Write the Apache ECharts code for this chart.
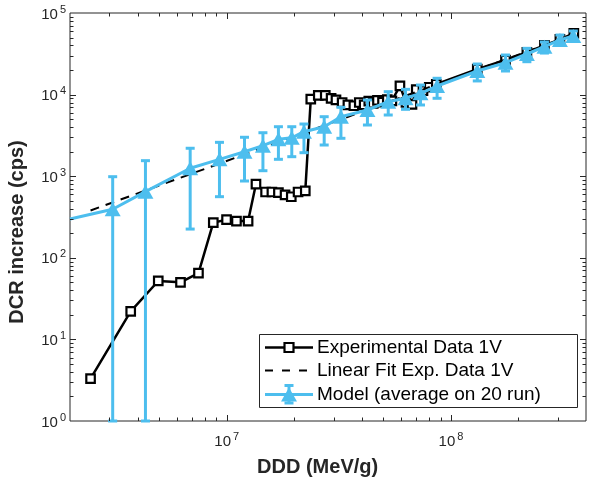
<!DOCTYPE html>
<html><head><meta charset="utf-8">
<script src="https://cdn.jsdelivr.net/npm/echarts@6/dist/echarts.min.js"></script>
<style>html,body{margin:0;padding:0;background:#fff}#c{width:589px;height:483px}</style>
</head><body><div id="c"></div>
<script>
// ---- data ----
const expX = [2.47e6, 3.73e6, 4.95e6, 6.22e6, 7.48e6, 8.71e6, 9.98e6, 1.105e7, 1.245e7, 1.35e7,
  1.49e7, 1.59e7, 1.70e7, 1.82e7, 1.94e7, 2.08e7, 2.24e7, 2.37e7, 2.56e7, 2.75e7,
  2.92e7, 3.07e7, 3.27e7, 3.47e7, 3.69e7, 3.9e7, 4.1e7, 4.3e7, 4.5e7, 4.7e7,
  4.95e7, 5.2e7, 5.45e7, 5.92e7, 6.3e7, 6.7e7, 7.0e7, 7.5e7, 8.0e7, 8.6e7,
  1.31e8, 1.75e8, 2.18e8, 2.61e8, 3.06e8, 3.53e8];
const expY = [3.3, 22, 52, 50, 65, 270, 293, 282, 282, 800,
  640, 640, 630, 590, 560, 640, 660, 8800, 9800, 9800,
  9000, 8600, 8000, 7500, 7300, 8000, 7500, 8300, 7800, 8500,
  8100, 8700, 8400, 12800, 8000, 7600, 11500, 11200, 12300, 13400,
  20500, 26500, 33000, 40000, 47500, 56400];
const fitX = [2.47e6, 3.53e8];
const fitY = [380, 54400];
const modelEdge = [2e6, 299];
const modelX = [3.10e6, 4.34e6, 6.87e6, 9.28e6, 1.20e7, 1.45e7, 1.70e7, 1.95e7, 2.21e7, 2.72e7,
  3.23e7, 4.24e7, 5.25e7, 6.27e7, 7.31e7, 8.67e7, 1.31e8, 1.75e8, 2.18e8, 2.61e8, 3.06e8, 3.51e8];
const modelY = [393, 646, 1250, 1610, 1995, 2365, 2830, 2950, 3510, 4040,
  5360, 6475, 8185, 9010, 10370, 12740, 19460, 24600, 31450, 38650, 46700, 52300];
const modelLo = [1, 1, 225, 561, 873, 1168, 1611, 1734, 1941, 2411,
  2913, 4240, 5623, 6600, 7460, 9010, 14700, 19460, 25300, 32300, 40500, 45400];
const modelHi = [986, 1550, 2200, 2600, 3000, 3410, 4040, 4040, 4360, 5360,
  6985, 8590, 10860, 11600, 13100, 15850, 23700, 30560, 36900, 44100, 53700, 60200];
const xRange = [2e6, 4e8];
const yRange = [1, 1e5];
const legendNames = ['Experimental Data 1V', 'Linear Fit Exp. Data 1V', 'Model (average on 20 run)'];
const xTitle = 'DDD (MeV/g)';
const yTitle = 'DCR increase (cps)';

// ---- chart ----
const AX = '#262626', BLUE = '#4DBEEE', FONT = '"Liberation Sans", Arial, sans-serif';
function powLabel(v) {
  const e = Math.log10(v), r = Math.round(e);
  if (Math.abs(e - r) > 1e-6) return '';
  return '{b|10}{s|' + r + '}';
}
const rich = {
  b: {fontSize: 15, fontFamily: FONT, color: AX, verticalAlign: 'bottom', lineHeight: 18},
  s: {fontSize: 11, fontFamily: FONT, color: AX, verticalAlign: 'top', lineHeight: 11, padding: [0, 0, 0, 2]}
};
// axis decoration ticks (minor at 2..9 x 10^n, major at powers)
const xTicks = [], yTicks = [];
for (let d = 6; d <= 8; d++) for (let m = 1; m <= 9; m++) {
  const v = m * Math.pow(10, d);
  if (v > xRange[0] * 1.0001 && v < xRange[1] * 0.9999) xTicks.push([v, 1, m === 1 ? 1 : 0]);
}
for (let d = 0; d <= 4; d++) for (let m = 1; m <= 9; m++) {
  const v = m * Math.pow(10, d);
  if (v > yRange[0] * 1.0001 && v < yRange[1] * 0.9999) yTicks.push([xRange[0], v, m === 1 ? 1 : 0]);
}
const ln = (x1, y1, x2, y2, c, w) => ({type: 'line', shape: {x1, y1, x2, y2}, style: {stroke: c, lineWidth: w}});

const chart = echarts.init(document.getElementById('c'), null, {renderer: 'canvas'});
const option = {
  backgroundColor: '#fff',
  animation: false,
  grid: {left: 70, top: 13, width: 518, height: 408, show: true, borderColor: AX, borderWidth: 1, backgroundColor: '#fff'},
  xAxis: {type: 'log', logBase: 10, min: xRange[0], max: xRange[1],
    axisLine: {show: false}, axisTick: {show: false}, splitLine: {show: false},
    axisLabel: {formatter: powLabel, rich: rich, margin: 10, showMinLabel: true, showMaxLabel: true}},
  yAxis: {type: 'log', logBase: 10, min: yRange[0], max: yRange[1],
    axisLine: {show: false}, axisTick: {show: false}, splitLine: {show: false},
    axisLabel: {formatter: powLabel, rich: rich, margin: 4}},
  series: [
    {type: 'line', name: legendNames[0], data: expX.map((x, i) => [x, expY[i]]),
      symbol: 'rect', symbolSize: 8.5, z: 2,
      lineStyle: {color: '#000', width: 2.5}, itemStyle: {color: '#fff', borderColor: '#000', borderWidth: 2.2}},
    {type: 'line', name: legendNames[1], data: fitX.map((x, i) => [x, fitY[i]]),
      symbol: 'none', z: 3, lineStyle: {color: '#000', width: 2, type: [9, 7]}},
    {type: 'custom', name: 'err', z: 4, silent: true,
      data: modelX.map((x, i) => [x, modelY[i], modelLo[i], modelHi[i]]),
      renderItem: (p, api) => {
        const x = api.value(0);
        const lo = api.coord([x, api.value(2)]), hi = api.coord([x, api.value(3)]);
        const cx = lo[0];
        return {type: 'group', children: [
          ln(cx, lo[1], cx, hi[1], BLUE, 3),
          ln(cx - 4.5, lo[1], cx + 4.5, lo[1], BLUE, 3),
          ln(cx - 4.5, hi[1], cx + 4.5, hi[1], BLUE, 3)]};
      }},
    {type: 'line', name: legendNames[2], z: 5,
      data: [{value: modelEdge, symbol: 'none'}].concat(modelX.map((x, i) => [x, modelY[i]])),
      symbol: 'triangle', symbolSize: [16, 14],
      lineStyle: {color: BLUE, width: 3}, itemStyle: {color: BLUE}},
    {type: 'custom', z: 10, silent: true, data: xTicks,
      renderItem: (p, api) => {
        const v = api.value(0), len = api.value(2) ? 6 : 3.5;
        const b = api.coord([v, yRange[0]]), t = api.coord([v, yRange[1]]);
        const x = Math.round(b[0]) + 0.5;
        return {type: 'group', children: [ln(x, b[1], x, b[1] - len, AX, 1), ln(x, t[1], x, t[1] + len, AX, 1)]};
      }},
    {type: 'custom', z: 10, silent: true, data: yTicks,
      renderItem: (p, api) => {
        const v = api.value(1), len = api.value(2) ? 6 : 3.5;
        const l = api.coord([xRange[0], v]), r = api.coord([xRange[1], v]);
        const y = Math.round(l[1]) + 0.5;
        return {type: 'group', children: [ln(l[0], y, l[0] + len, y, AX, 1), ln(r[0], y, r[0] - len, y, AX, 1)]};
      }}
  ],
  graphic: [
    {type: 'text', x: 317.6, y: 467, z: 100, style: {text: xTitle, font: 'bold 20px ' + FONT, fill: AX, align: 'center', verticalAlign: 'middle'}},
    {type: 'text', x: 17, y: 232, rotation: Math.PI / 2, z: 100, style: {text: yTitle, font: 'bold 20px ' + FONT, fill: AX, align: 'center', verticalAlign: 'middle'}},
    {type: 'rect', z: 100, shape: {x: 259.5, y: 334.5, width: 318, height: 73}, style: {fill: '#fff', stroke: AX, lineWidth: 1}},
    {type: 'line', z: 101, shape: {x1: 265, y1: 347.5, x2: 313, y2: 347.5}, style: {stroke: '#000', lineWidth: 2.5}},
    {type: 'rect', z: 102, shape: {x: 284.5, y: 343, width: 9, height: 9}, style: {fill: '#fff', stroke: '#000', lineWidth: 2.2}},
    {type: 'line', z: 101, shape: {x1: 265, y1: 370.5, x2: 313, y2: 370.5}, style: {stroke: '#000', lineWidth: 2, lineDash: [8, 9]}},
    {type: 'line', z: 101, shape: {x1: 265, y1: 394.5, x2: 313, y2: 394.5}, style: {stroke: BLUE, lineWidth: 3}},
    {type: 'line', z: 101, shape: {x1: 289, y1: 385.5, x2: 289, y2: 403}, style: {stroke: BLUE, lineWidth: 3}},
    {type: 'line', z: 101, shape: {x1: 284.5, y1: 385.5, x2: 293.5, y2: 385.5}, style: {stroke: BLUE, lineWidth: 3}},
    {type: 'line', z: 101, shape: {x1: 284.5, y1: 403, x2: 293.5, y2: 403}, style: {stroke: BLUE, lineWidth: 3}},
    {type: 'polygon', z: 102, shape: {points: [[289, 387.5], [297, 401.5], [281, 401.5]]}, style: {fill: BLUE}},
    {type: 'text', z: 102, x: 317, y: 348, style: {text: legendNames[0], font: '19px ' + FONT, fill: '#000', verticalAlign: 'middle'}},
    {type: 'text', z: 102, x: 317, y: 371, style: {text: legendNames[1], font: '19px ' + FONT, fill: '#000', verticalAlign: 'middle'}},
    {type: 'text', z: 102, x: 317, y: 394.5, style: {text: legendNames[2], font: '19px ' + FONT, fill: '#000', verticalAlign: 'middle'}}
  ]
};
chart.setOption(option);
</script></body></html>
